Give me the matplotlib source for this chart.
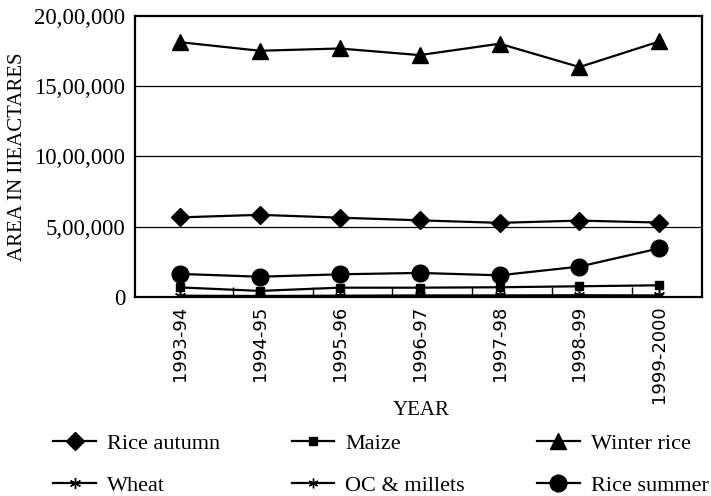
import matplotlib.pyplot as plt
from matplotlib.ticker import FixedLocator

# crop area (lakh hectares)
years = ["1993-94", "1994-95", "1995-96", "1996-97", "1997-98", "1998-99", "1999-2000"]
rice_autumn = [5.67, 5.85, 5.65, 5.46, 5.28, 5.44, 5.30]
winter_rice = [18.13, 17.52, 17.68, 17.21, 18.02, 16.36, 18.18]
rice_summer = [1.65, 1.45, 1.62, 1.72, 1.55, 2.17, 3.47]
maize = [0.69, 0.44, 0.67, 0.67, 0.70, 0.77, 0.84]
wheat = [0.10, 0.08, 0.10, 0.12, 0.12, 0.13, 0.12]
oc_millets = [0.06, 0.05, 0.06, 0.07, 0.07, 0.08, 0.07]

y_ticks = [0, 500000, 1000000, 1500000, 2000000]
y_tick_labels = ["0", "5,00,000", "10,00,000", "15,00,000", "20,00,000"]

plt.rcParams["font.family"] = "Liberation Serif"

fig = plt.figure(figsize=(7.11, 4.96), dpi=100)
ax = fig.add_axes([0.19, 0.401, 0.797, 0.567])

x = list(range(len(years)))
lakh = 100000

series = [
    ("Rice autumn", rice_autumn, "D", 9),
    ("Wheat", wheat, (6, 2, 0), 8),
    ("Maize", maize, "s", 6),
    ("OC & millets", oc_millets, (6, 2, 0), 7),
    ("Winter rice", winter_rice, "^", 11),
    ("Rice summer", rice_summer, "o", 12),
]
for name, vals, mk, ms in series:
    ax.plot(x, [v * lakh for v in vals], color="black", lw=1.6, marker=mk,
            markersize=ms, markeredgewidth=1.0, label=name)

for g in y_ticks[1:-1]:
    ax.axhline(g, color="black", lw=0.9, zorder=0)

ax.set_xlim(-0.56, 6.53)
ax.set_ylim(0, 2000000)
ax.set_yticks(y_ticks)
ax.set_yticklabels(y_tick_labels, fontsize=16.5)
ax.tick_params(axis="y", length=0, pad=7)

ax.set_xticks(x)
ax.set_xticklabels(years, rotation=90, fontsize=13, family="DejaVu Sans")
ax.tick_params(axis="x", length=0, pad=6)
ax.xaxis.set_minor_locator(FixedLocator([i + 0.66 for i in range(6)]))
ax.tick_params(axis="x", which="minor", direction="in", length=7, width=1)

for s in ax.spines.values():
    s.set_linewidth(1.6)

ax.set_ylabel("AREA IN IIEACTARES", fontsize=15)
ax.yaxis.set_label_coords(-0.19, 0.5)
fig.text(0.592, 0.173, "YEAR", ha="center", va="center", fontsize=15)

handles, labels = ax.get_legend_handles_labels()
fig.legend(handles, labels, ncol=3, loc="lower left", bbox_to_anchor=(0.047, -0.04),
           frameon=False, fontsize=16, handlelength=1.9, columnspacing=3.25,
           labelspacing=0.95, handletextpad=0.5)

fig.savefig("out.png", dpi=100)
